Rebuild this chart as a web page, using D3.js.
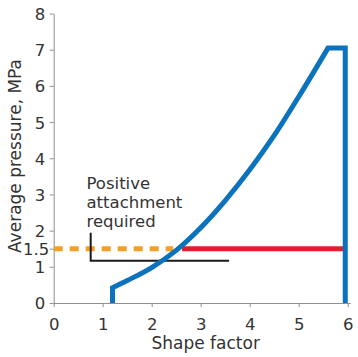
<!DOCTYPE html>
<html><head><meta charset="utf-8">
<script src="https://cdn.jsdelivr.net/npm/d3@7"></script>
<style>
html,body{margin:0;padding:0;background:#fff;}
svg{display:block;font-family:"DejaVu Sans",sans-serif;}
</style></head>
<body>
<svg id="chart" width="358" height="357"></svg>
<script>
// ---- data ----
const xTicks = [0, 1, 2, 3, 4, 5, 6];
const yTicks = [0, 1, 2, 3, 4, 5, 6, 7, 8];
const yExtraTick = 1.5;
const curveX = [1.2, 1.5, 2.0, 2.5, 3.0, 3.5, 4.0, 4.5, 5.0, 5.6];
const curveY = [0.42, 0.62, 0.98, 1.455, 2.08, 2.83, 3.68, 4.63, 5.7, 7.05];
const curveStartX = 1.2;
const plateauEndX = 5.95;
const requiredLevel = 1.5;
const dashedEndX = 2.44;
const redStartX = 2.62;
const bracketX = [0.755, 3.58];
const bracketY = [1.94, 1.17];
const noteLines = ["Positive", "attachment", "required"];
const xTitle = "Shape factor";
const yTitle = "Average pressure, MPa";

// ---- layout ----
const svg = d3.select("#chart");
const x = d3.scaleLinear().domain([0, 6]).range([53.7, 347.7]);
const y = d3.scaleLinear().domain([0, 8]).range([303, 13.5]);
const textCol = "#333";
const axisCol = "#8f8f8f";

// axes
const gx = svg.append("g").attr("transform", `translate(0,${y(0)})`)
  .call(d3.axisBottom(x).tickValues(xTicks).tickSize(4).tickSizeOuter(0).tickFormat(d3.format("d")));
gx.select(".domain").attr("stroke", axisCol).attr("d", `M${x(0)},0.5H${x(6)+3}`);
gx.selectAll(".tick line").attr("stroke", axisCol);
gx.selectAll(".tick text").attr("fill", textCol).attr("font-size", "16.5px")
  .attr("font-family", "DejaVu Sans").attr("y", 0).attr("dy", "27px");

const gy = svg.append("g").attr("transform", `translate(${x(0)},0)`)
  .call(d3.axisLeft(y).tickValues(yTicks.concat([yExtraTick])).tickSize(4).tickSizeOuter(0)
    .tickFormat(d => d === yExtraTick ? "1.5" : d3.format("d")(d)));
gy.select(".domain").attr("stroke", axisCol);
gy.selectAll(".tick line").attr("stroke", axisCol);
gy.selectAll(".tick text").attr("fill", textCol).attr("font-size", "16.5px")
  .attr("font-family", "DejaVu Sans").attr("x", d => d === yExtraTick ? -4.5 : -8.5).attr("dy", "0.36em");

// axis titles
svg.append("text").attr("x", (x(0) + x(6)) / 2 + 5).attr("y", 349)
  .attr("text-anchor", "middle").attr("font-size", "17px").attr("fill", textCol).text(xTitle);
svg.append("text").attr("transform", `translate(21,156) rotate(-90)`)
  .attr("text-anchor", "middle").attr("font-size", "17px").attr("fill", textCol).text(yTitle);

// orange dashed required level
svg.append("line").attr("x1", x(0)).attr("x2", x(dashedEndX))
  .attr("y1", y(requiredLevel)).attr("y2", y(requiredLevel))
  .attr("stroke", "#f5a020").attr("stroke-width", 5).attr("stroke-dasharray", "9,7");

// red line
svg.append("line").attr("x1", x(redStartX)).attr("x2", x(plateauEndX))
  .attr("y1", y(requiredLevel)).attr("y2", y(requiredLevel))
  .attr("stroke", "#e31d2f").attr("stroke-width", 5);

// bracket
svg.append("path")
  .attr("d", d3.line()([[x(bracketX[0]), y(bracketY[0])], [x(bracketX[0]), y(bracketY[1])], [x(bracketX[1]), y(bracketY[1])]]))
  .attr("fill", "none").attr("stroke", "#1a1a1a").attr("stroke-width", 2);

// blue curve
const pts = curveX.map((d, i) => [x(d), y(curveY[i])]);
const curveD = d3.line().curve(d3.curveMonotoneX)(pts);
const fullD = `M${x(curveStartX)},${y(0)}L` + curveD.slice(1) +
  `L${x(plateauEndX)},${y(curveY[curveY.length - 1])}L${x(plateauEndX)},${y(0)}`;
svg.append("path").attr("d", fullD).attr("fill", "none")
  .attr("stroke", "#0b73bd").attr("stroke-width", 5).attr("stroke-linejoin", "miter");

// note
const note = svg.append("text").attr("font-size", "16.5px").attr("fill", textCol);
noteLines.forEach((t, i) => {
  note.append("tspan").attr("x", 86.5).attr("y", 189 + i * 19.2).text(t);
});
</script>
</body></html>
